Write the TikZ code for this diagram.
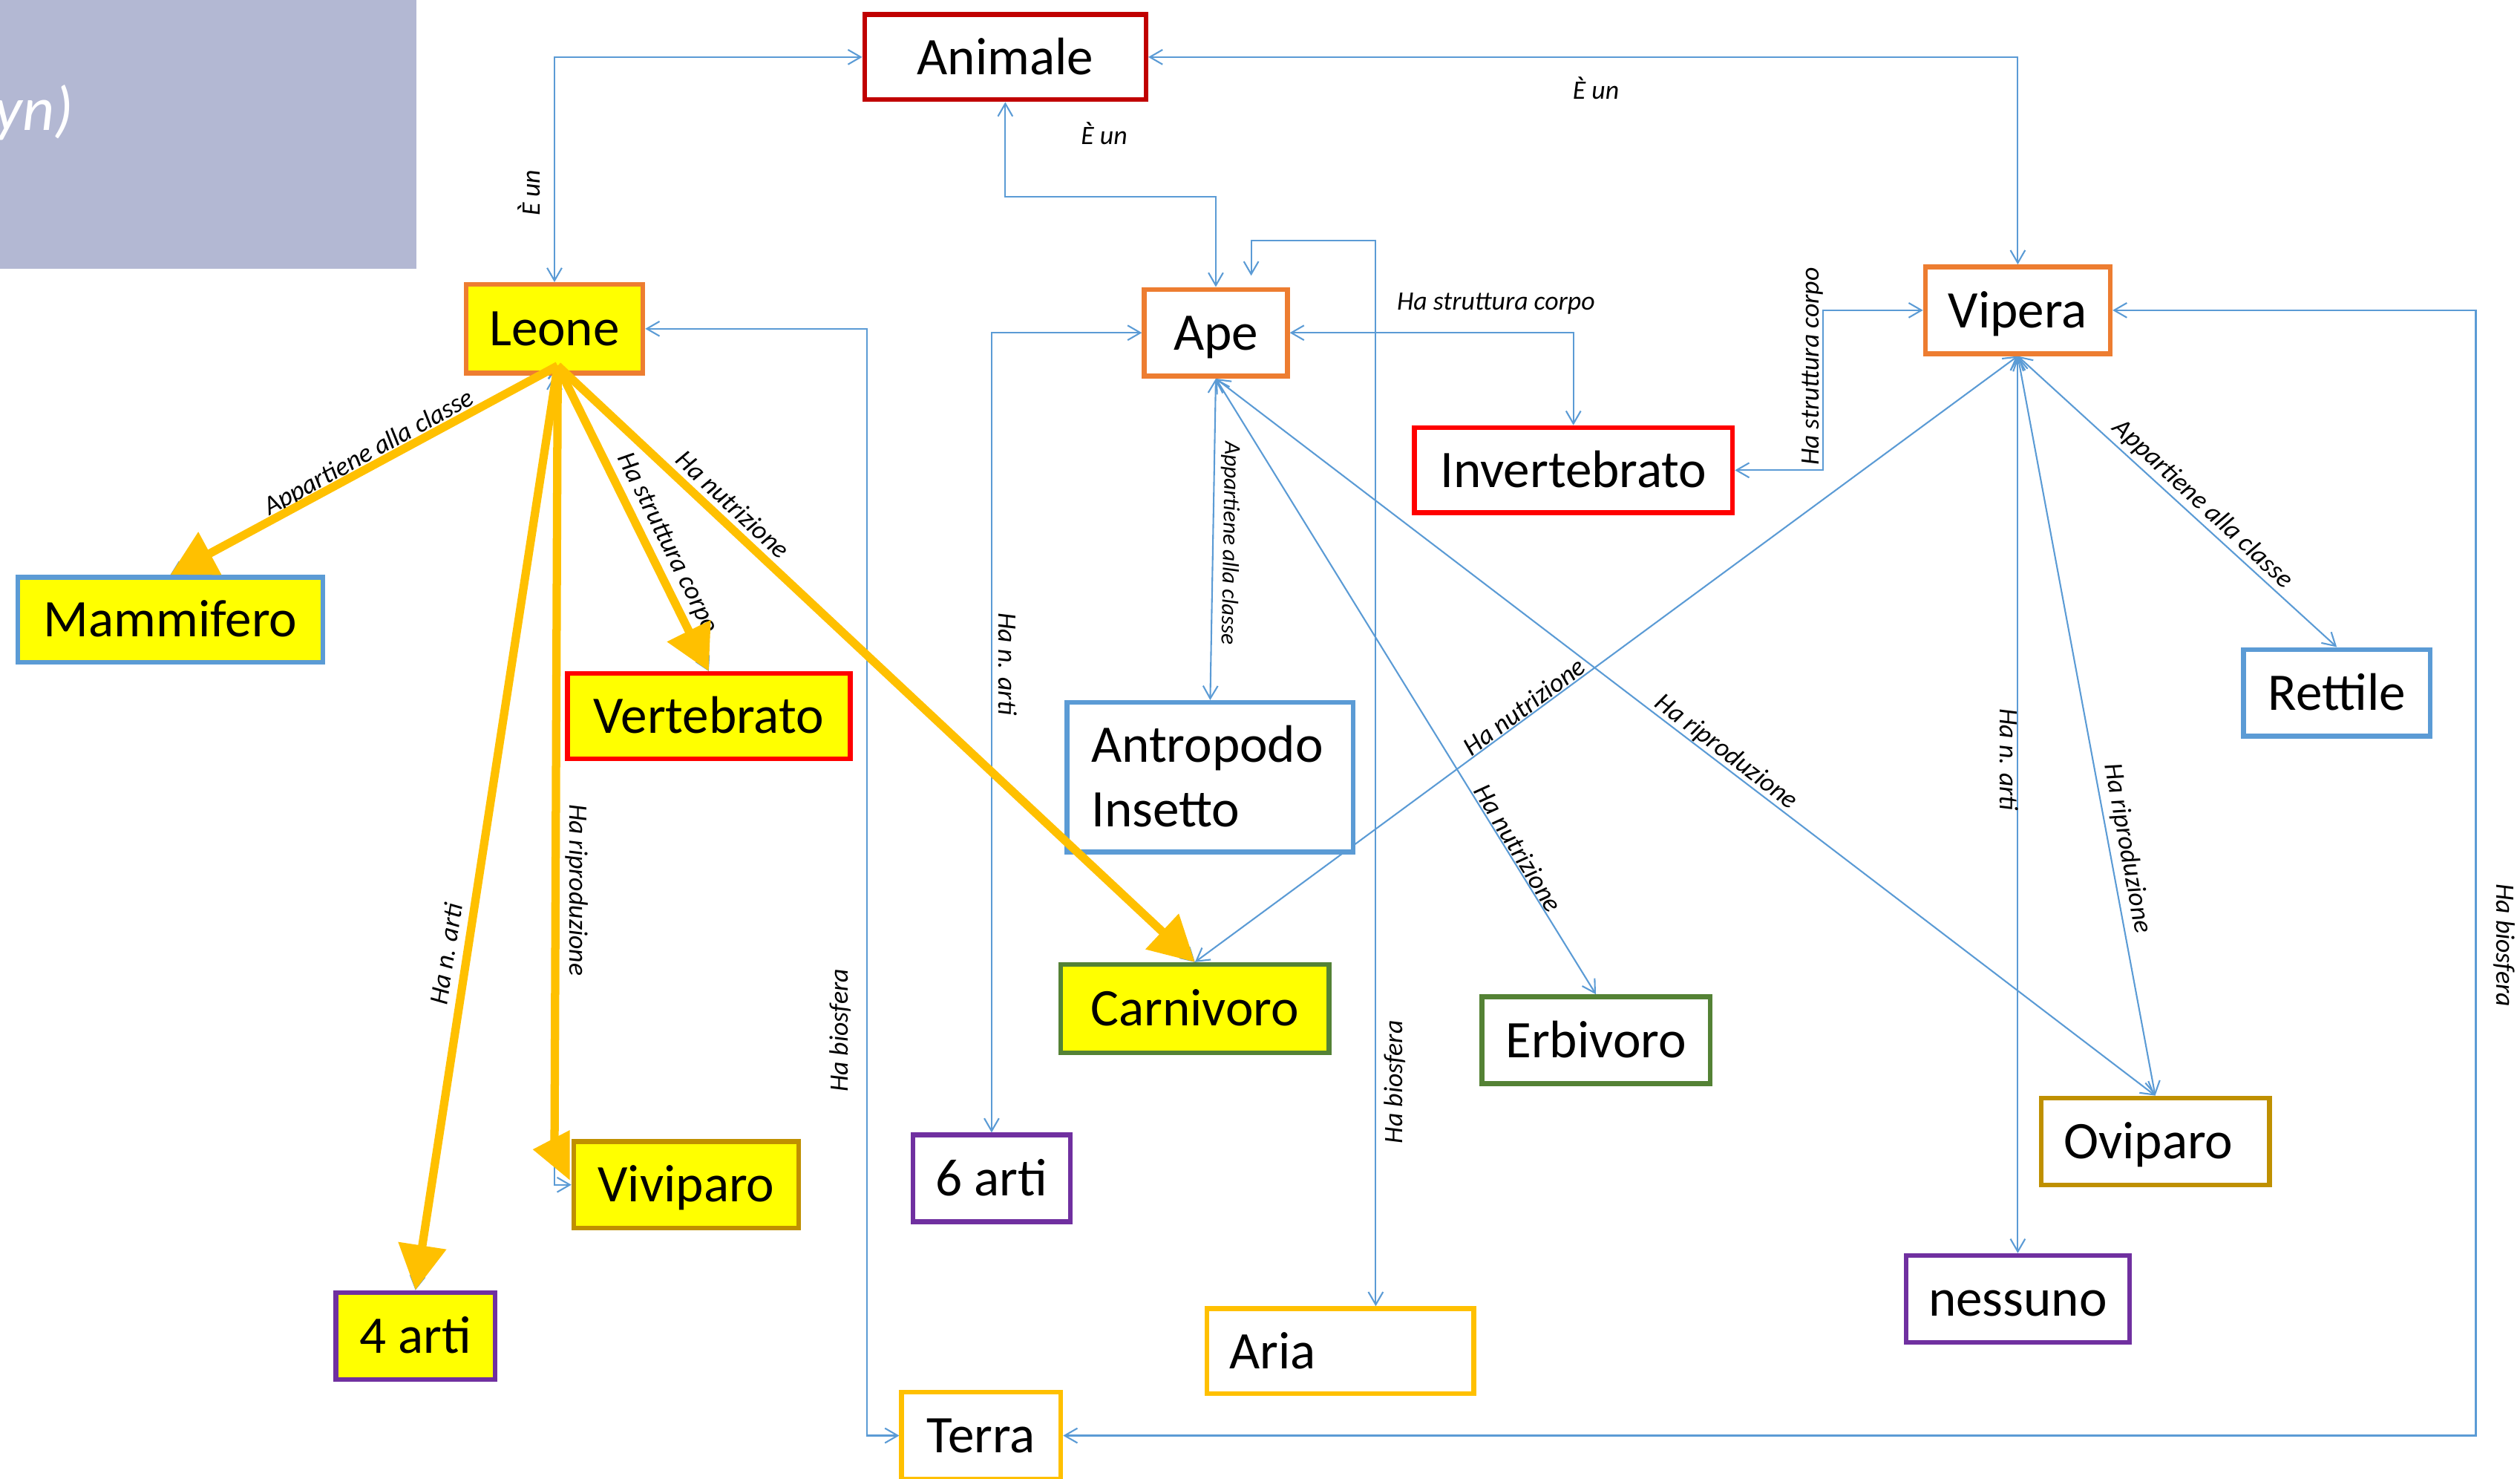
\documentclass[tikz,border=0pt]{standalone}
\usepackage{fontspec}
\setmainfont{Carlito}
\usetikzlibrary{arrows.meta}
\definecolor{cconn}{HTML}{5B9BD5}
\definecolor{cblue}{HTML}{5B9BD5}
\definecolor{cdred}{HTML}{C00000}
\definecolor{cred}{HTML}{FF0000}
\definecolor{corange}{HTML}{ED7D31}
\definecolor{cyellow}{HTML}{FFFF00}
\definecolor{cgreen}{HTML}{548235}
\definecolor{cgold}{HTML}{BF9000}
\definecolor{cpurple}{HTML}{7030A0}
\definecolor{camber}{HTML}{FFC000}
\definecolor{cgrey}{RGB}{179,184,211}
\pgfdeclarelayer{background}
\pgfdeclarelayer{foreground}
\pgfsetlayers{background,main,foreground}
\tikzset{
  box/.style={draw, fill=white, line width=1.7pt, inner sep=0pt, text=black,
    font=\fontsize{18.7}{22.8}\selectfont, text height=12.2pt, text depth=0pt},
  sz/.style 2 args={minimum width=#1*0.02cm, minimum height=#2*0.02cm},
  conn/.style={draw=cconn, line width=0.55pt, >={Straight Barb[length=4.5pt,width=5.2pt]}, <->},
  hl/.style={draw=camber, line width=0.104cm, -{Triangle[length=0.56cm,width=0.58cm]}},
  lbl/.style={font=\fontsize{9.4}{11}\selectfont\itshape, inner sep=0pt, text=black},
}
\begin{document}
\begin{tikzpicture}[x=0.02cm,y=-0.02cm]
\useasboundingbox (0,0) rectangle (1568,920);

% nodes
\node[box, draw=cdred, sz={175}{53}] (Animale) at (625.5,35.5) {Animale};
\node[box, fill=cyellow, draw=corange, sz={110}{55}] (Leone) at (345,204.5) {Leone};
\node[box, draw=corange, sz={89}{54}] (Ape) at (756.5,207) {Ape};
\node[box, draw=corange, sz={115}{54}] (Vipera) at (1255.5,193) {Vipera};
\node[box, draw=cred, sz={198}{53}] (Inv) at (979,292.5) {Invertebrato};
\node[box, fill=cyellow, draw=cblue, sz={190}{53}] (Mam) at (106,385.5) {Mammifero};
\node[box, fill=cyellow, draw=cred, sz={176}{53}] (Vert) at (441,445.5) {Vertebrato};
\node[box, draw=cblue, sz={116}{54}] (Rett) at (1454,431) {Rettile};
\node[box, draw=cblue, sz={178}{93}, align=left, text width=2.96cm, inner xsep=0.3cm, text depth=22.8pt] (Antr) at (753,483.5) {Antropodo\\Insetto};
\node[box, fill=cyellow, draw=cgreen, sz={167}{55}] (Carn) at (743.5,627.5) {Carnivoro};
\node[box, draw=cgreen, sz={142}{54}] (Erb) at (993,647) {Erbivoro};
\node[box, fill=cyellow, draw=cgold, sz={140}{54}] (Viv) at (427,737) {Viviparo};
\node[box, draw=cpurple, sz={98}{54}] (Sei) at (617,733) {6 arti};
\node[box, fill=cyellow, draw=cpurple, sz={99}{54}] (Quattro) at (258.5,831) {4 arti};
\node[box, draw=camber, sz={166}{53}, align=left, text width=2.76cm, inner xsep=0.28cm] (Aria) at (834,840.5) {Aria};
\node[box, draw=camber, sz={99}{54}] (Terra) at (610.5,893) {Terra};
\node[box, draw=cgold, sz={142}{54}, align=left, text width=2.28cm, inner xsep=0.28cm] (Ovi) at (1341,710) {Oviparo};
\node[box, draw=cpurple, sz={139}{54}] (Ness) at (1255.5,808) {nessuno};

\node[font=\fontsize{22}{26}\selectfont\itshape, text=white, anchor=base east, inner sep=0pt] (title) at (46,81) {yn)};

\coordinate (Lc) at ([shift={(2,-6)}]Leone.south);
\coordinate (vivend) at ([shift={(-10.5,-21)}]Viv.west);

\begin{pgfonlayer}{background}
\fill[cgrey] (0,0) rectangle (259,167);
\draw[conn] (Leone.north) |- (Animale.west);
\draw[conn] (Animale.south) -- ++(0,59) -| (Ape.north);
\draw[conn] (Animale.east) -| (Vipera.north);
\draw[conn] ([shift={(22,-7)}]Ape.north) -- ++(0,-22) -| ([shift={(22,0)}]Aria.north);
\draw[conn] (Ape.east) -| (Inv.north);
\draw[conn] (Vipera.west) -- ++(-62,0) |- (Inv.east);
\draw[conn] (Ape.west) -| (Sei.north);
\draw[conn] (Ape.south) -- (Antr.north);
\draw[conn] (Ape.south) -- (Erb.north);
\draw[conn] (Ape.south) -- (Ovi.north);
\draw[conn] (Vipera.south) -- (Carn.north);
\draw[conn] (Vipera.south) -- (Rett.north);
\draw[conn] (Vipera.south) -- (Ness.north);
\draw[conn] (Vipera.south) -- (Ovi.north);
\draw[conn] (Vipera.east) -- ++(226,0) |- (Terra.east);
\draw[conn] (Leone.east) -- ++(138,0) |- (Terra.west);
\draw[conn] (Lc) -- (Mam.north);
\draw[conn] (Lc) -- (Vert.north);
\draw[conn] (Lc) -- (Carn.north);
\draw[conn] (Lc) -- (Quattro.north);
\draw[conn] (Leone.south) |- (Viv.west);
\end{pgfonlayer}

\begin{pgfonlayer}{foreground}
\draw[hl] (Lc) -- (Mam.north);
\draw[hl] (Lc) -- (Vert.north);
\draw[hl] (Lc) -- (Carn.north);
\draw[hl] (Lc) -- (Quattro.north);
\draw[draw=camber, line width=0.104cm] (Lc) -- (vivend);
\fill[camber] ([shift={(-24,-22)}]Viv.west) -- ([shift={(-1,-34)}]Viv.west) -- ([shift={(-1,-3)}]Viv.west) -- cycle;
\end{pgfonlayer}

% labels
\node[lbl, rotate=90] (l1) at (329,120) {È un};
\node[lbl] (l2) at (687,83) {È un};
\node[lbl] (l3) at (993,55) {È un};
\node[lbl] (l4) at (930.8,189) {Ha struttura corpo};
\node[lbl, rotate=90] (l5) at (1128,228) {Ha struttura corpo};
\node[lbl, rotate=-91, font=\fontsize{8.15}{10}\selectfont\itshape] (l6) at (765,338) {Appartiene alla classe};
\node[lbl, rotate=-90] (l7) at (627,413) {Ha n. arti};
\node[lbl, rotate=-58.5] (l8) at (944.7,527.6) {Ha nutrizione};
\node[lbl, rotate=-37.5] (l9) at (1074,468) {Ha riproduzione};
\node[lbl, rotate=36.6] (l10) at (948.4,439.5) {Ha nutrizione};
\node[lbl, rotate=-42.8] (l11) at (1370.5,313.7) {Appartiene alla classe};
\node[lbl, rotate=-90] (l12) at (1250,472.5) {Ha n. arti};
\node[lbl, rotate=-79.5] (l13) at (1323.5,527.7) {Ha riproduzione};
\node[lbl, rotate=-90] (l14) at (1558,588) {Ha biosfera};
\node[lbl, rotate=90] (l15) at (522.7,641) {Ha biosfera};
\node[lbl, rotate=90] (l16) at (868,673) {Ha biosfera};
\node[lbl, rotate=28.7] (l17) at (229.8,282) {Appartiene alla classe};
\node[lbl, rotate=-63.7] (l18) at (415,338) {Ha struttura corpo};
\node[lbl, rotate=-43] (l19) at (456,313.7) {Ha nutrizione};
\node[lbl, rotate=81.1] (l20) at (277.4,593.5) {Ha n. arti};
\node[lbl, rotate=-90] (l21) at (358.7,553.6) {Ha riproduzione};
\end{tikzpicture}
\end{document}
